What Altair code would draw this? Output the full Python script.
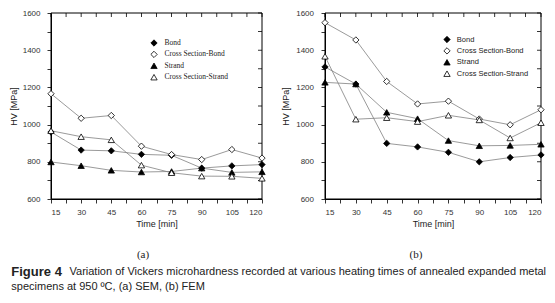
import altair as alt
import pandas as pd

# ---------------- data ----------------
times = [15, 30, 45, 60, 75, 90, 105, 120]
series_names = ["Bond", "Cross Section-Bond", "Strand", "Cross Section-Strand"]

# panel (a) SEM
a_bond = [960, 863, 859, 840, 835, 766, 778, 785]
a_cs_bond = [1166, 1034, 1049, 884, 839, 812, 866, 820]
a_strand = [799, 779, 754, 745, 748, 766, 743, 746]
a_cs_strand = [967, 935, 918, 782, 741, 723, 722, 711]

# panel (b) FEM
b_bond = [1310, 1218, 899, 880, 851, 800, 823, 837]
b_cs_bond = [1548, 1455, 1232, 1111, 1126, 1030, 999, 1080]
b_strand = [1227, 1218, 1066, 1032, 914, 886, 888, 894]
b_cs_strand = [1367, 1029, 1037, 1016, 1050, 1025, 928, 1010]

x_domain = [15, 120]
y_domain = [600, 1600]
x_major = [15, 30, 45, 60, 75, 90, 105, 120]
x_minor = [22.5, 37.5, 52.5, 67.5, 82.5, 97.5, 112.5]
y_major = [600, 800, 1000, 1200, 1400, 1600]
y_minor = [700, 900, 1100, 1300, 1500]

x_title = "Time [min]"
y_title = "HV [MPa]"
panel_labels = ["(a)", "(b)"]
caption_bold = "Figure 4"
caption_line1 = "Variation of Vickers microhardness recorded at various heating times of annealed expanded metal"
caption_line2 = "specimens at 950 ºC, (a) SEM, (b) FEM"

shape_range = ["diamond", "diamond", "triangle-up", "triangle-up"]
fill_range = ["black", "white", "black", "white"]
stroke_range = ["black", "black", "black", "black"]

SANS = "Liberation Sans"
SERIF = "Liberation Serif"
H = 186

x_ticks = sorted(x_major + x_minor)
y_ticks = sorted(y_major + y_minor)


def long_df(vals):
    rows = []
    for name, ys in zip(series_names, vals):
        for t, v in zip(times, ys):
            rows.append({"Time": t, "HV": v, "Series": name})
    return pd.DataFrame(rows)


def panel(vals, W, legend_x, legend_y, legend_font, label_offset, y_title_pad, y_label_pad):
    df = long_df(vals)
    xs = alt.Scale(domain=x_domain, nice=False, zero=False)
    ys = alt.Scale(domain=y_domain, nice=False, zero=False)
    x_axis = alt.Axis(
        values=x_ticks, title=x_title, grid=False,
        labelExpr="datum.value % 15 === 0 ? datum.label : ''",
        domain=True, domainColor="black", domainWidth=1,
        ticks=True, tickColor="black", tickWidth=0.8, tickSize=4,
        labelPadding=5, labelFontSize=8, labelFont=SANS, labelColor="#333",
        titleFont=SANS, titleFontSize=9, titleFontWeight="normal", titleColor="#222",
        titlePadding=3, format="d")
    y_axis = alt.Axis(
        values=y_ticks, title=y_title, grid=False,
        labelExpr="datum.value % 200 === 0 ? datum.label : ''",
        domain=True, domainColor="black", domainWidth=1,
        ticks=True, tickColor="black", tickWidth=0.8, tickSize=4,
        labelPadding=y_label_pad, labelFontSize=8, labelFont=SANS, labelColor="#333",
        titleFont=SANS, titleFontSize=9, titleFontWeight="normal", titleColor="#222",
        titlePadding=y_title_pad, format="d")
    x_enc = alt.X("Time:Q", scale=xs, axis=x_axis)
    y_enc = alt.Y("HV:Q", scale=ys, axis=y_axis)

    # frame (top and right edges) and inward ticks
    frame_df = pd.DataFrame({"Time": [x_domain[0]], "Time2": [x_domain[1]],
                             "HV": [y_domain[0]], "HV2": [y_domain[1]]})
    frame = alt.Chart(frame_df).mark_rect(filled=False, stroke="black", strokeWidth=1).encode(
        x=x_enc, x2="Time2:Q", y=y_enc, y2="HV2:Q")
    top_df = pd.DataFrame({"Time": x_ticks, "HV": [y_domain[1]] * len(x_ticks)})
    top_ticks = alt.Chart(top_df).mark_tick(orient="vertical", size=4, thickness=0.8,
                                            color="black", opacity=1, yOffset=2).encode(
        x=x_enc, y=y_enc)
    right_df = pd.DataFrame({"Time": [x_domain[1]] * len(y_ticks), "HV": y_ticks})
    right_ticks = alt.Chart(right_df).mark_tick(orient="horizontal", size=4, thickness=0.8,
                                                color="black", opacity=1, xOffset=-2).encode(
        x=x_enc, y=y_enc)

    lines = alt.Chart(df).mark_line(color="#808080", strokeWidth=0.8).encode(
        x=x_enc, y=y_enc, detail="Series:N")

    leg = alt.Legend(orient="none", legendX=legend_x, legendY=legend_y, title=None,
                     labelFont=legend_font, labelFontSize=7.5, labelColor="#222",
                     symbolSize=40, symbolStrokeWidth=0.8,
                     rowPadding=1.4, labelOffset=label_offset, padding=0)
    points = alt.Chart(df).mark_point(filled=True, opacity=1, size=40, strokeWidth=0.8).encode(
        x=x_enc, y=y_enc,
        shape=alt.Shape("Series:N", scale=alt.Scale(domain=series_names, range=shape_range), legend=leg),
        fill=alt.Fill("Series:N", scale=alt.Scale(domain=series_names, range=fill_range), legend=leg),
        stroke=alt.Stroke("Series:N", scale=alt.Scale(domain=series_names, range=stroke_range), legend=leg),
    )

    return alt.layer(frame, top_ticks, right_ticks, lines, points).properties(width=W, height=H)


left = panel([a_bond, a_cs_bond, a_strand, a_cs_strand], 211, 99, 26, SERIF, 6.5, 4, 7)
right = panel([b_bond, b_cs_bond, b_strand, b_cs_strand], 216, 118, 22.5, SANS, 5.8, 5, 7.5)

top = alt.hconcat(left, right, spacing=13).resolve_scale(
    shape="independent", fill="independent", stroke="independent").resolve_legend(
    shape="independent", fill="independent", stroke="independent")

cap_df = pd.DataFrame({"k": [0]})
def txt(s, x, y, font, size, weight="normal", align="left"):
    return alt.Chart(cap_df).mark_text(text=s, font=font, fontSize=size, fontWeight=weight,
                                       align=align, baseline="middle", color="#222").encode(
        x=alt.value(x), y=alt.value(y))

caption = alt.layer(
    txt(panel_labels[0], 92, 24.5, SERIF, 11, align="center"),
    txt(panel_labels[1], 365, 24.5, SERIF, 11, align="center"),
    txt(caption_bold, -39.7, 41.5, SANS, 13, "bold"),
    txt(caption_line1, 18.5, 41.5, SANS, 11),
    txt(caption_line2, -39.7, 56.5, SANS, 11),
).properties(width=400, height=40)

chart = alt.vconcat(top, caption, spacing=0).properties(padding=0).configure(
    font=SANS).configure_view(stroke="transparent")

chart.save("out.html", embed_options={"renderer": "svg", "actions": False})
